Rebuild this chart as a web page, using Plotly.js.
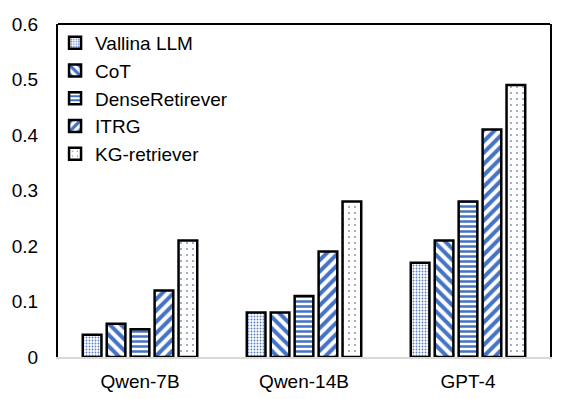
<!DOCTYPE html>
<html>
<head>
<meta charset="utf-8">
<script src="https://cdn.plot.ly/plotly-3.0.1.min.js"></script>
<style>html,body{margin:0;padding:0;background:#fff}#chart{width:574px;height:399px}</style>
</head>
<body>
<div id="chart"></div>
<script>
const categories = ["Qwen-7B", "Qwen-14B", "GPT-4"];
const seriesNames = ["Vallina LLM", "CoT", "DenseRetirever", "ITRG", "KG-retriever"];
const vallina = [0.04, 0.08, 0.17];
const cot = [0.06, 0.08, 0.21];
const dense = [0.05, 0.11, 0.28];
const itrg = [0.12, 0.19, 0.41];
const kgRetriever = [0.21, 0.28, 0.49];
const yTicks = [0, 0.1, 0.2, 0.3, 0.4, 0.5, 0.6];

const seriesValues = [vallina, cot, dense, itrg, kgRetriever];
const patterns = [
  {shape: ".", fgcolor: "#5B7FC4", bgcolor: "#ffffff", size: 3, solidity: 0.3},
  {shape: "\\", fgcolor: "#4472C4", bgcolor: "#ffffff", size: 8, solidity: 0.5},
  {shape: "-", fgcolor: "#4472C4", bgcolor: "#ffffff", size: 5, solidity: 0.5},
  {shape: "/", fgcolor: "#4472C4", bgcolor: "#ffffff", size: 8, solidity: 0.5},
  {shape: ".", fgcolor: "#7F8FA6", bgcolor: "#ffffff", size: 6, solidity: 0.08}
];

const traces = seriesNames.map((name, i) => ({
  type: "bar",
  name: name,
  x: categories,
  y: seriesValues[i],
  legendgroup: "g" + i,
  marker: {
    color: "#ffffff",
    pattern: patterns[i],
    line: {color: "#000000", width: 2.5}
  },
  hoverinfo: "x+y+name"
}));

const layout = {
  width: 574,
  height: 399,
  margin: {l: 58, r: 24, t: 24, b: 42},
  paper_bgcolor: "#ffffff",
  plot_bgcolor: "#ffffff",
  font: {family: "Liberation Sans, Arial, sans-serif", size: 19, color: "#000000"},
  barmode: "group",
  bargap: 0.27,
  bargroupgap: 0.22,
  showlegend: true,
  legend: {
    x: -0.006, y: 1.0, xanchor: "left", yanchor: "top",
    bgcolor: "rgba(0,0,0,0)",
    font: {size: 19, color: "#000000"},
    tracegroupgap: 4,
    itemwidth: 30,
    traceorder: "normal"
  },
  xaxis: {
    showline: true, linecolor: "#d9d9d9", linewidth: 2,
    showgrid: false, zeroline: false,
    ticks: "", tickfont: {size: 19},
    ticklabelstandoff: 6
  },
  yaxis: {
    range: [0, 0.6],
    tickvals: yTicks,
    ticktext: yTicks.map(v => String(v)),
    showline: true, linecolor: "#000000", linewidth: 2, mirror: true,
    showgrid: false, zeroline: false,
    ticks: "", tickfont: {size: 19},
    ticklabelstandoff: 14
  },
  shapes: [{
    type: "line", xref: "paper", yref: "paper",
    x0: 0, x1: 1, y0: 1, y1: 1,
    line: {color: "#000000", width: 2}
  }]
};

Plotly.newPlot("chart", traces, layout, {displayModeBar: false, staticPlot: true});
</script>
</body>
</html>
